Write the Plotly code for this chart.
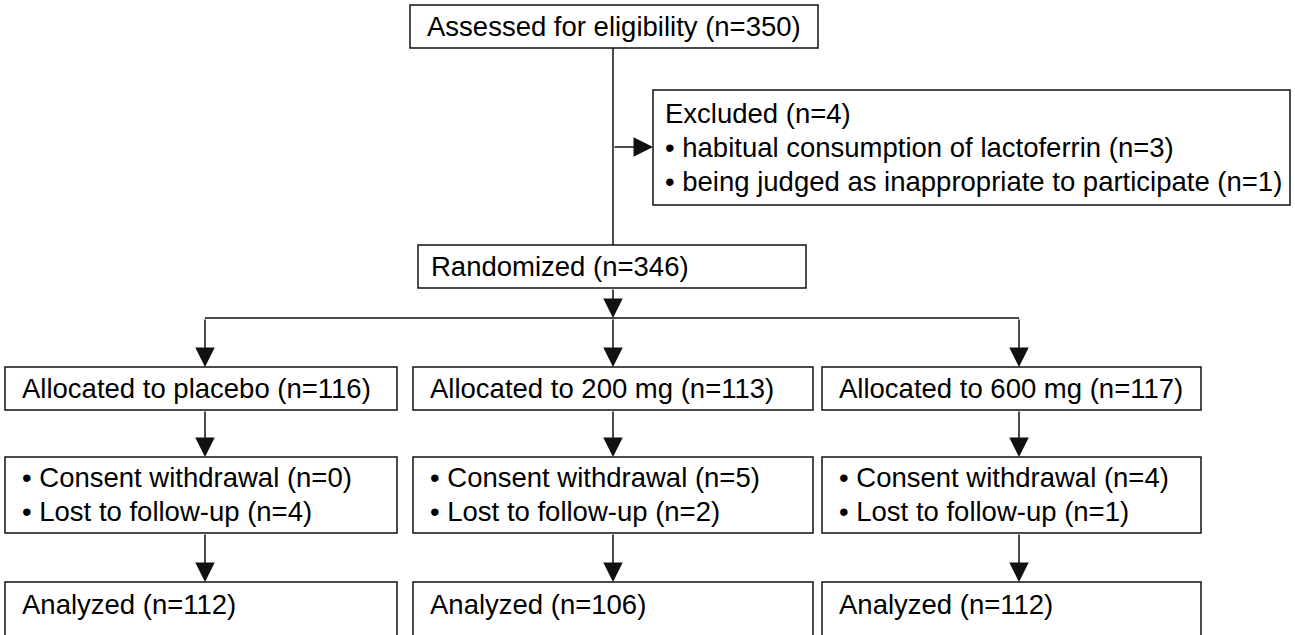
import plotly.graph_objects as go

# ---- data ----
assessed_n = 350
excluded_n = 4
excluded_reasons = ["habitual consumption of lactoferrin", "being judged as inappropriate to participate"]
excluded_counts = [3, 1]
randomized_n = 346
groups = ["placebo", "200 mg", "600 mg"]
allocated = [116, 113, 117]
consent_withdrawal = [0, 5, 4]
lost_followup = [4, 2, 1]
analyzed = [112, 106, 112]

# ---- layout geometry (screen pixel space, y downward) ----
W, H = 1295, 635
LINE = dict(color="#111111", width=1.5)
FONT = dict(family="Liberation Sans, Arial, sans-serif", size=27.5, color="#000000")
PAD = 15

fig = go.Figure()
shapes = []
annotations = []


def box(x0, x1, y0, y1):
    shapes.append(dict(type="rect", xref="x", yref="y", x0=x0, x1=x1, y0=y0, y1=y1,
                       line=LINE, fillcolor="rgba(0,0,0,0)", layer="above"))


def text(x, y, s):
    annotations.append(dict(xref="x", yref="y", x=x, y=y, text=s, showarrow=False,
                            xanchor="left", yanchor="middle", font=FONT))


def line(x0, y0, x1, y1):
    shapes.append(dict(type="line", xref="x", yref="y", x0=x0, x1=x1, y0=y0, y1=y1, line=LINE))


def arrow(x0, y0, x1, y1):
    annotations.append(dict(xref="x", yref="y", axref="x", ayref="y", x=x1, y=y1, ax=x0, ay=y0,
                            text="", showarrow=True, arrowhead=2, arrowsize=2.6, arrowwidth=1.5,
                            arrowcolor="#111111", standoff=0, startstandoff=0))


cx = 613
# top box
box(410, 818, 5, 48)
text(410 + PAD, 26.5, f"Assessed for eligibility (n={assessed_n})")
line(cx, 48, cx, 245)

# excluded box
arrow(cx, 147, 653, 147)
box(653, 1290, 90, 205)
ex_lines = [f"Excluded (n={excluded_n})"] + [f"\u2022 {r} (n={c})" for r, c in zip(excluded_reasons, excluded_counts)]
for i, s in enumerate(ex_lines):
    text(653 + 10, 113 + 34 * i, s)

# randomized
box(418, 806, 245, 288)
text(418 + 11, 266.5, f"Randomized (n={randomized_n})")
arrow(cx, 288, cx, 318)

col_x = [205, 613, 1019]
col_box = [(5, 397), (413, 813), (822, 1201)]
line(col_x[0], 318, col_x[-1], 318)

for i, g in enumerate(groups):
    x = col_x[i]
    bx0, bx1 = col_box[i]
    arrow(x, 318, x, 367)
    box(bx0, bx1, 367, 410)
    text(bx0 + PAD, 388.5, f"Allocated to {g} (n={allocated[i]})")
    arrow(x, 410, x, 457)
    box(bx0, bx1, 457, 533)
    text(bx0 + PAD, 477, f"\u2022 Consent withdrawal (n={consent_withdrawal[i]})")
    text(bx0 + PAD, 511, f"\u2022 Lost to follow-up (n={lost_followup[i]})")
    arrow(x, 533, x, 582)
    box(bx0, bx1, 582, 645)
    text(bx0 + PAD, 604, f"Analyzed (n={analyzed[i]})")

fig.update_layout(
    width=W, height=H,
    margin=dict(l=0, r=0, t=0, b=0),
    paper_bgcolor="white", plot_bgcolor="white",
    xaxis=dict(range=[0, W], visible=False, fixedrange=True),
    yaxis=dict(range=[H, 0], visible=False, fixedrange=True),
    shapes=shapes, annotations=annotations, showlegend=False,
)
fig.write_html(
    "out.html",
    config={"displayModeBar": False, "staticPlot": True},
    post_script="document.body.style.margin='0';document.body.style.overflow='hidden';",
)
